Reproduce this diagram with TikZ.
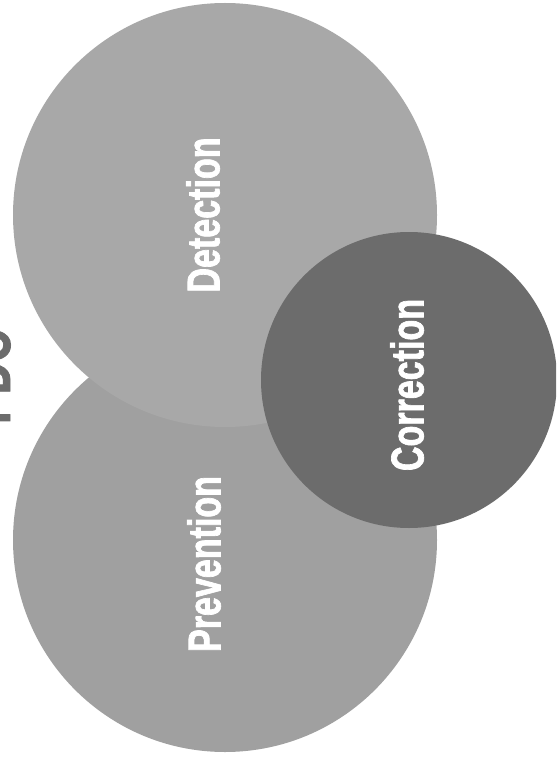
\documentclass[tikz,border=0pt]{standalone}
\usepackage{fontspec}
\setmainfont{Liberation Sans}[FakeStretch=0.76]
\newfontfamily\condbold{Liberation Sans Bold}[FakeStretch=0.74, FakeBold=1.5]
\begin{document}
\begin{tikzpicture}[x=1pt,y=-1pt,
  bubble/.style={circle, inner sep=0pt, minimum size=#1, draw=none},
  label/.style={rotate=90, text=white, font=\condbold\fontsize{46}{46}\selectfont, inner sep=0pt},
  heading/.style={rotate=90, text=gray!85!black, font=\condbold\fontsize{60}{60}\selectfont, inner sep=0pt, anchor=base}]
\useasboundingbox (0,0) rectangle (556,759);
\clip (0,0) rectangle (556,759);
\fill[white] (0,0) rectangle (556,759);
\node[heading] (title) at (10,377) {PDC};
\node[bubble=424pt, fill={rgb,255:red,160;green,160;blue,160}] (prev) at (225,540) {};
\node[bubble=424pt, fill={rgb,255:red,168;green,168;blue,168}] (det) at (225,215) {};
\node[bubble=296pt, fill={rgb,255:red,108;green,108;blue,108}] (corr) at (409,380) {};
\node[label] (detlabel) at (203,215) {Detection};
\node[label] (prevlabel) at (204,564) {Prevention};
\node[label] (corrlabel) at (407,385) {Correction};
\end{tikzpicture}
\end{document}
